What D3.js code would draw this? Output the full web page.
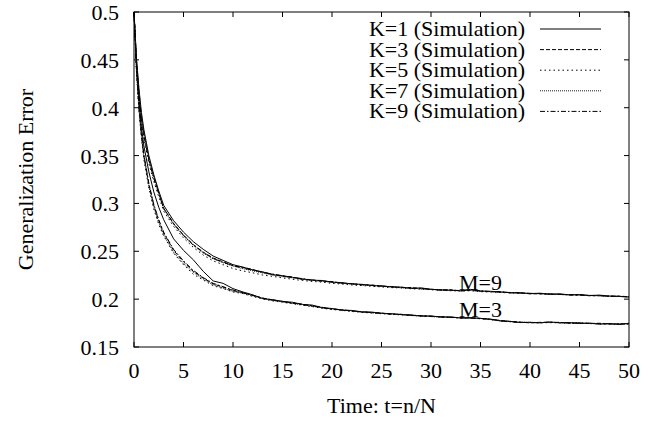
<!DOCTYPE html>
<html>
<head>
<meta charset="utf-8">
<script src="https://cdn.jsdelivr.net/npm/d3@7"></script>
<style>
  body { margin: 0; background: #fff; }
  svg text { font-family: "Liberation Serif", "Times New Roman", serif; fill: #000; }
</style>
</head>
<body>
<svg id="chart"></svg>
<script>
// time axis (t = n/N) shared by every curve
const time = [0, 0.25, 0.5, 0.75, 1, 1.5, 2, 2.5,
  3, 4, 5, 6, 7, 8, 9, 10,
  11, 12, 13, 14, 15, 16, 17, 18, 19, 20, 21, 22, 23, 24, 25, 26, 27, 28, 29, 30,
  31, 32, 33, 34, 35, 36, 37, 38, 39, 40, 41, 42, 43, 44, 45, 46, 47, 48, 49, 50];

// M=9 curves
const m9k1 = [0.5, 0.452, 0.42, 0.395, 0.377, 0.35, 0.33, 0.313,
  0.298, 0.282, 0.270, 0.260, 0.252, 0.245, 0.2405, 0.236,
  0.2335, 0.2305, 0.2285, 0.2255, 0.2245, 0.2228, 0.2212, 0.2198, 0.2195, 0.2178, 0.2172, 0.2158, 0.2155, 0.2142, 0.2138, 0.2128, 0.2125, 0.2112, 0.2118, 0.2102,
  0.2098, 0.2092, 0.2088, 0.2102, 0.2085, 0.2082, 0.2075, 0.2068, 0.2065, 0.2058, 0.2062, 0.2052, 0.2055, 0.2045, 0.2048, 0.2038, 0.2042, 0.2032, 0.2028, 0.2022];
const m9k3 = [0.5, 0.448, 0.415, 0.39, 0.372, 0.346, 0.327, 0.311,
  0.295, 0.279, 0.267, 0.257, 0.249, 0.243, 0.239, 0.235,
  0.2332, 0.231, 0.2278, 0.226, 0.224, 0.2232, 0.2205, 0.2202, 0.2188, 0.2182, 0.2168, 0.2162, 0.215, 0.2148, 0.2135, 0.2132, 0.212, 0.2122, 0.2108, 0.2105,
  0.2092, 0.2098, 0.2085, 0.2092, 0.2082, 0.2078, 0.2078, 0.2065, 0.2068, 0.2055, 0.2058, 0.205, 0.2052, 0.2042, 0.2045, 0.2035, 0.2038, 0.2028, 0.2032, 0.2025];
const m9k5 = [0.5, 0.445, 0.412, 0.386, 0.368, 0.342, 0.323, 0.307,
  0.292, 0.276, 0.264, 0.254, 0.246, 0.240, 0.236, 0.232,
  0.2295, 0.2275, 0.2252, 0.2238, 0.2222, 0.2208, 0.2195, 0.2185, 0.2178, 0.2165, 0.2158, 0.2148, 0.2142, 0.2135, 0.2128, 0.212, 0.2118, 0.2108, 0.2105, 0.2098,
  0.2092, 0.2088, 0.2085, 0.2088, 0.2078, 0.2075, 0.207, 0.2065, 0.2062, 0.2058, 0.2055, 0.205, 0.2048, 0.2045, 0.2042, 0.2038, 0.2035, 0.203, 0.2028, 0.2025];
const m9k7 = [0.5, 0.45, 0.418, 0.392, 0.374, 0.348, 0.328, 0.311,
  0.294, 0.278, 0.266, 0.256, 0.248, 0.242, 0.238, 0.2345,
  0.2318, 0.2295, 0.2272, 0.2252, 0.2235, 0.2222, 0.2208, 0.2195, 0.2188, 0.2175, 0.2165, 0.2158, 0.2148, 0.2142, 0.2132, 0.2128, 0.2118, 0.2115, 0.2108, 0.2102,
  0.2095, 0.209, 0.2092, 0.2095, 0.2082, 0.208, 0.2072, 0.207, 0.2062, 0.2062, 0.2055, 0.2052, 0.2048, 0.2048, 0.204, 0.204, 0.2035, 0.2033, 0.2028, 0.2025];
const m9k9 = [0.5, 0.447, 0.414, 0.389, 0.371, 0.345, 0.326, 0.31,
  0.295, 0.279, 0.2665, 0.2565, 0.249, 0.2425, 0.2385, 0.235,
  0.2325, 0.2302, 0.2282, 0.2262, 0.2245, 0.2225, 0.2215, 0.2198, 0.219, 0.218, 0.2168, 0.2162, 0.2152, 0.2145, 0.2138, 0.2128, 0.2125, 0.2115, 0.2112, 0.2102,
  0.2098, 0.2095, 0.2088, 0.2098, 0.2088, 0.2078, 0.2075, 0.2068, 0.2065, 0.206, 0.2058, 0.2055, 0.205, 0.2046, 0.2044, 0.2038, 0.2036, 0.2032, 0.203, 0.2024];

// M=3 curves
const m3k1 = [0.5, 0.445, 0.408, 0.38, 0.36, 0.333, 0.312, 0.296,
  0.283, 0.263, 0.251, 0.241, 0.229, 0.219, 0.2165, 0.211,
  0.2075, 0.2045, 0.2005, 0.1995, 0.1975, 0.1968, 0.1945, 0.1938, 0.1912, 0.1902, 0.1885, 0.1882, 0.1865, 0.1865, 0.1852, 0.1848, 0.1838, 0.1835, 0.1822, 0.1825,
  0.1812, 0.1815, 0.1802, 0.1808, 0.1798, 0.1792, 0.1772, 0.1768, 0.1755, 0.1758, 0.1752, 0.1762, 0.1752, 0.1755, 0.1745, 0.175, 0.1738, 0.1745, 0.1735, 0.1748];
const m3k3 = [0.5, 0.44, 0.4, 0.372, 0.35, 0.32, 0.298, 0.282,
  0.269, 0.251, 0.239, 0.229, 0.222, 0.216, 0.2125, 0.209,
  0.2068, 0.2038, 0.2012, 0.1988, 0.1978, 0.1958, 0.1948, 0.1928, 0.1915, 0.1895, 0.1888, 0.1875, 0.187, 0.1858, 0.1855, 0.1842, 0.1842, 0.1828, 0.1828, 0.1818,
  0.1818, 0.1808, 0.1808, 0.1802, 0.18, 0.1788, 0.1778, 0.1765, 0.176, 0.1752, 0.1758, 0.1755, 0.1758, 0.175, 0.1752, 0.1745, 0.1748, 0.174, 0.1742, 0.1742];
const m3k5 = [0.5, 0.437, 0.397, 0.368, 0.346, 0.316, 0.294, 0.278,
  0.266, 0.248, 0.236, 0.226, 0.22, 0.214, 0.211, 0.2075,
  0.2058, 0.2028, 0.2002, 0.1982, 0.1968, 0.1952, 0.1938, 0.1922, 0.1905, 0.1892, 0.1882, 0.1872, 0.1862, 0.1855, 0.1848, 0.1842, 0.1835, 0.183, 0.1822, 0.1818,
  0.1812, 0.1808, 0.1802, 0.18, 0.1795, 0.1785, 0.1772, 0.1765, 0.1758, 0.1755, 0.1752, 0.1755, 0.1752, 0.1748, 0.1748, 0.1745, 0.1742, 0.174, 0.1738, 0.174];
const m3k7 = [0.5, 0.439, 0.399, 0.37, 0.348, 0.318, 0.296, 0.28,
  0.267, 0.249, 0.237, 0.228, 0.221, 0.215, 0.2115, 0.208,
  0.2062, 0.2035, 0.2008, 0.1985, 0.1972, 0.1955, 0.1942, 0.1925, 0.191, 0.1898, 0.1885, 0.1878, 0.1865, 0.1862, 0.185, 0.1845, 0.1838, 0.1832, 0.1825, 0.1822,
  0.1815, 0.1812, 0.1805, 0.1805, 0.1798, 0.1788, 0.1775, 0.1768, 0.1758, 0.1758, 0.1755, 0.1758, 0.1755, 0.1752, 0.175, 0.1748, 0.1745, 0.1742, 0.1738, 0.1744];
const m3k9 = [0.5, 0.441, 0.401, 0.373, 0.351, 0.321, 0.299, 0.283,
  0.27, 0.252, 0.24, 0.23, 0.2225, 0.2165, 0.213, 0.2095,
  0.2065, 0.204, 0.201, 0.1992, 0.1975, 0.1962, 0.1942, 0.1932, 0.1908, 0.19, 0.1888, 0.1878, 0.1868, 0.186, 0.1852, 0.1845, 0.184, 0.1832, 0.1828, 0.182,
  0.1815, 0.181, 0.1805, 0.1802, 0.1798, 0.179, 0.1775, 0.1765, 0.1758, 0.1755, 0.1755, 0.176, 0.1755, 0.175, 0.1752, 0.1745, 0.1745, 0.1742, 0.174, 0.1745];

const legendLabels = ['K=1 (Simulation)', 'K=3 (Simulation)', 'K=5 (Simulation)', 'K=7 (Simulation)', 'K=9 (Simulation)'];
const xTicks = [0, 5, 10, 15, 20, 25, 30, 35, 40, 45, 50];
const yTicks = [0.15, 0.2, 0.25, 0.3, 0.35, 0.4, 0.45, 0.5];
const yTickLabels = ['0.15', '0.2', '0.25', '0.3', '0.35', '0.4', '0.45', '0.5'];
const groupLabels = ['M=9', 'M=3'];
const groupLabelPos = [[35, 0.2095], [35, 0.1815]];

// one dash style per K, same for both M groups
const dashes = [null, '4,2', '1.5,3', '1,1', '5,2,1.5,2'];
const strokes = ['#000', '#000', '#000', '#222', '#000'];

const W = 657, H = 421;
const margin = { top: 12, right: 28, bottom: 74, left: 134 };
const width = W - margin.left - margin.right;
const height = H - margin.top - margin.bottom;

const svg = d3.select('#chart').attr('width', W).attr('height', H);
const g = svg.append('g').attr('transform', `translate(${margin.left},${margin.top})`);

const x = d3.scaleLinear().domain([0, 50]).range([0, width]);
const y = d3.scaleLinear().domain([0.15, 0.5]).range([height, 0]);

const line = d3.line()
  .x(d => x(d[0]))
  .y(d => y(d[1]));

const groups = [
  [m9k1, m9k3, m9k5, m9k7, m9k9],
  [m3k1, m3k3, m3k5, m3k7, m3k9]
];

// curves, K=1 first like gnuplot
for (let k = 0; k < 5; k++) {
  groups.forEach(grp => {
    g.append('path')
      .datum(d3.zip(time, grp[k]))
      .attr('fill', 'none')
      .attr('stroke', strokes[k])
      .attr('stroke-width', 1)
      .attr('stroke-dasharray', dashes[k])
      .attr('d', line);
  });
}

// frame and inward ticks on all four sides
const tickLen = 5;
g.append('rect')
  .attr('width', width).attr('height', height)
  .attr('fill', 'none').attr('stroke', '#000').attr('stroke-width', 1);

xTicks.forEach(t => {
  g.append('line').attr('x1', x(t)).attr('x2', x(t)).attr('y1', height).attr('y2', height - tickLen).attr('stroke', '#000');
  g.append('line').attr('x1', x(t)).attr('x2', x(t)).attr('y1', 0).attr('y2', tickLen).attr('stroke', '#000');
  g.append('text')
    .attr('x', x(t)).attr('y', height + 31)
    .attr('text-anchor', 'middle')
    .style('font-size', '22px')
    .text(t);
});

yTicks.forEach((v, i) => {
  g.append('line').attr('x1', 0).attr('x2', tickLen).attr('y1', y(v)).attr('y2', y(v)).attr('stroke', '#000');
  g.append('line').attr('x1', width).attr('x2', width - tickLen).attr('y1', y(v)).attr('y2', y(v)).attr('stroke', '#000');
  g.append('text')
    .attr('x', -15).attr('y', y(v) + 8)
    .attr('text-anchor', 'end')
    .style('font-size', '22px')
    .text(yTickLabels[i]);
});

// axis titles
svg.append('text')
  .attr('x', margin.left + width / 2).attr('y', 413)
  .attr('text-anchor', 'middle')
  .style('font-size', '22px')
  .text('Time: t=n/N');

svg.append('text')
  .attr('transform', `translate(33,${margin.top + height / 2}) rotate(-90)`)
  .attr('text-anchor', 'middle')
  .style('font-size', '22px')
  .text('Generalization Error');

// group labels
groupLabels.forEach((lab, i) => {
  g.append('text')
    .attr('x', x(groupLabelPos[i][0])).attr('y', y(groupLabelPos[i][1]))
    .attr('text-anchor', 'middle')
    .style('font-size', '22px')
    .text(lab);
});

// legend
const legend = g.append('g');
legendLabels.forEach((lab, i) => {
  const ly = 17 + i * 20.6;
  legend.append('text')
    .attr('x', 391).attr('y', ly + 7)
    .attr('text-anchor', 'end')
    .style('font-size', '22px')
    .text(lab);
  legend.append('line')
    .attr('x1', 406).attr('x2', 467)
    .attr('y1', ly).attr('y2', ly)
    .attr('stroke', strokes[i])
    .attr('stroke-width', 1)
    .attr('stroke-dasharray', dashes[i]);
});
</script>
</body>
</html>
